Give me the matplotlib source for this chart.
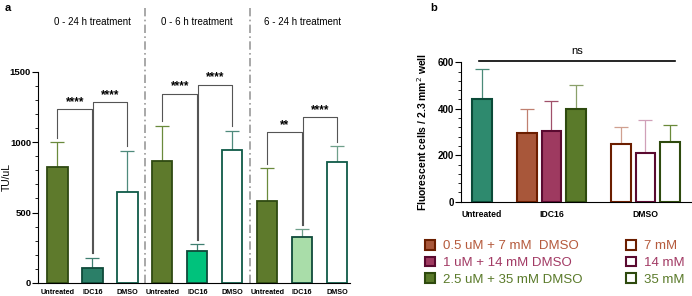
import matplotlib.pyplot as plt
import numpy as np
from matplotlib.patches import Patch
from matplotlib.ticker import MultipleLocator

plt.rcParams['font.family'] = ['Liberation Sans', 'DejaVu Sans']

# ---- panel a data
a_groups = ['0 - 24 h treatment', '0 - 6 h treatment', '6 - 24 h treatment']
a_labels = ['Untreated', 'IDC16', 'DMSO'] * 3
a_means = [825, 108, 648, 868, 227, 945, 584, 324, 856]
a_errtop = [1000, 180, 940, 1118, 278, 1082, 816, 381, 972]
a_fill = ['#5e7a2c', '#2b7f68', 'white', '#5e7a2c', '#00c27c', 'white', '#5e7a2c', '#a9dda9', 'white']
a_edge = ['#2f4a12', '#0f4a3a', '#0f5a48', '#2f4a12', '#0f4a3a', '#0f5a48', '#2f4a12', '#0f4a3a', '#0f5a48']
a_ecol = ['#6a8a3c', '#3f7f70', '#4f8a7c', '#6a8a3c', '#3f7f70', '#4f8a7c', '#6a8a3c', '#6f9f8a', '#6f9f8a']
# significance brackets: (left bar, right bar, height, label)
sig_left = [0, 1, 3, 4, 6, 7]
sig_right = [1, 2, 4, 5, 7, 8]
sig_height = [1234, 1283, 1345, 1409, 1069, 1175]
sig_text = ['****', '****', '****', '****', '**', '****']

# ---- panel b data
b_ticks = ['Untreated', 'IDC16', 'DMSO']
b_means = [440, 294, 305, 400, 250, 208, 258]
b_errtop = [570, 401, 433, 501, 322, 350, 331]
b_fill = ['#2e8a6e', '#a8573a', '#9e3a60', '#5a7a2a', 'white', 'white', 'white']
b_edge = ['#0b4a38', '#6b1e00', '#5a0a30', '#2e4a0e', '#6b1e00', '#5a0a30', '#2e4a0e']
b_ecol = ['#4a8a78', '#c08070', '#a0506a', '#8aa06a', '#d0a090', '#d0a0b8', '#6a8a3a']
legend_labels = ['0.5 uM + 7 mM  DMSO', '1 uM + 14 mM DMSO', '2.5 uM + 35 mM DMSO', '7 mM', '14 mM', '35 mM']
legend_text_col = ['#b55a3c', '#a23a64', '#5a7a2a', '#b55a3c', '#a23a64', '#5a7a2a']

fig = plt.figure(figsize=(6.92, 2.96), dpi=100)

# ================= panel a
ax = fig.add_axes([38/692, 13/296, 312/692, 211.3/296])
xa = np.arange(len(a_means))
ax.bar(xa, a_means, width=0.58, color=a_fill, edgecolor=a_edge, linewidth=1.3, zorder=3)
for i in range(len(xa)):
    ax.errorbar(xa[i], a_means[i], yerr=[[0], [a_errtop[i]-a_means[i]]], fmt='none',
                ecolor=a_ecol[i], elinewidth=0.9, capsize=5, capthick=0.9, zorder=2)

for l, r, h, t in zip(sig_left, sig_right, sig_height, sig_text):
    x1 = xa[l] + (0.03 if l % 3 == 1 else 0)
    x2 = xa[r]
    ax.plot([x1, x1, x2, x2], [a_errtop[l]+30, h, h, a_errtop[r]+30], color='#555555',
            lw=0.8, clip_on=False, zorder=4)
    ax.text((x1+x2)/2, h+10, t, ha='center', va='bottom', fontsize=8.5, fontweight='bold')

for s in [2.5, 5.5]:
    ax.plot([s, s], [0, 1970], color='#9a9a9a', lw=1.2, ls=(0, (5, 2, 1, 2)), clip_on=False, zorder=1)
for g, name in enumerate(a_groups):
    ax.text(3*g+1, 1850, name, ha='center', va='center', fontsize=7)

ax.set_xlim(-0.557, 8.37)
ax.set_ylim(0, 1500)
ax.spines['top'].set_visible(False)
ax.spines['right'].set_visible(False)
ax.set_xticks(xa)
ax.set_xticklabels(a_labels, fontsize=5.2, fontweight='bold')
ax.tick_params(axis='x', length=0, pad=4)
ax.set_yticks([0, 500, 1000, 1500])
ax.yaxis.set_minor_locator(MultipleLocator(100))
ax.tick_params(axis='y', which='major', length=4, labelsize=6.8, pad=1)
ax.tick_params(axis='y', which='minor', length=2.5)
for lab in ax.get_yticklabels():
    lab.set_fontweight('bold')
ax.set_ylabel('TU/uL', fontsize=7.5)
ax.yaxis.set_label_coords(-0.085, 0.5)

# ================= panel b
bx = fig.add_axes([461/692, (296-201.7)/296, 231/692, 139.4/296])
xb = [0, 1.84, 2.84, 3.84, 5.68, 6.68, 7.68]
bx.bar(xb, b_means, width=0.8, color=b_fill, edgecolor=b_edge, linewidth=1.5, zorder=3)
for i in range(len(xb)):
    bx.errorbar(xb[i], b_means[i], yerr=[[0], [b_errtop[i]-b_means[i]]], fmt='none',
                ecolor=b_ecol[i], elinewidth=0.9, capsize=5, capthick=0.9, zorder=2)
bx.plot([-0.12, 7.9], [605, 605], color='black', lw=1.2, clip_on=False)
bx.text(3.88, 625, 'ns', ha='center', va='bottom', fontsize=8)

bx.set_xlim(-0.845, 8.58)
bx.set_ylim(0, 600)
bx.spines['top'].set_visible(False)
bx.spines['right'].set_visible(False)
bx.set_xticks([0, 2.84, 6.68])
bx.set_xticklabels(b_ticks, fontsize=6.2, fontweight='bold')
bx.tick_params(axis='x', length=0, pad=6)
bx.set_yticks([0, 200, 400, 600])
bx.yaxis.set_minor_locator(MultipleLocator(40))
bx.tick_params(axis='y', which='major', length=4, labelsize=7, pad=1)
bx.tick_params(axis='y', which='minor', length=2.5)
for lab in bx.get_yticklabels():
    lab.set_fontweight('bold')
bx.set_ylabel('Fluorescent cells / 2.3 mm$^2$ well', fontsize=7.5, fontweight='bold', labelpad=6)

handles = [Patch(facecolor=b_fill[i], edgecolor=b_edge[i], linewidth=1.5) for i in [1, 2, 3]]
handles += [Patch(facecolor='white', edgecolor=b_edge[i], linewidth=1.5) for i in [4, 5, 6]]
fig.legend(handles, legend_labels, loc='upper left', bbox_to_anchor=(425/692, 1-240/296),
           ncol=2, frameon=False, fontsize=9.5, labelcolor=legend_text_col,
           handlelength=0.75, handleheight=0.75, handletextpad=0.6, columnspacing=3.3,
           labelspacing=0.32, borderpad=0, borderaxespad=0)

fig.text(5/692, 1-8/296, 'a', fontsize=8, fontweight='bold', va='center')
fig.text(430/692, 1-8/296, 'b', fontsize=8, fontweight='bold', va='center')

fig.savefig('out.png', dpi=100)
